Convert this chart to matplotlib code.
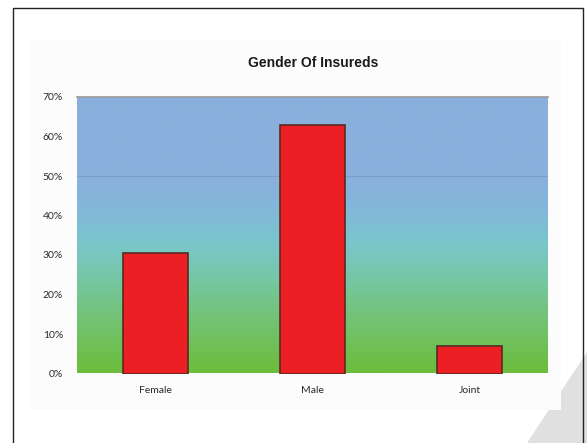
import numpy as np
import matplotlib.pyplot as plt
from matplotlib.colors import LinearSegmentedColormap
from matplotlib.patches import Rectangle, Polygon

# Data
categories = ["Female", "Male", "Joint"]
shares = [30.6, 62.9, 7.0]          # percent of insureds
y_ticks = [0, 10, 20, 30, 40, 50, 60, 70]
y_tick_labels = ["0%", "10%", "20%", "30%", "40%", "50%", "60%", "70%"]
grid_levels = [50]
title = "Gender Of Insureds"

W, H = 587, 443
fig = plt.figure(figsize=(W / 100, H / 100), dpi=100)
fig.patch.set_facecolor("white")

# Background decorations in figure-pixel space
bg = fig.add_axes([0, 0, 1, 1])
bg.set_xlim(0, W)
bg.set_ylim(H, 0)
bg.axis("off")
bg.add_patch(Polygon([(527, H), (W, 352), (W, H)], closed=True,
                     facecolor="#e0e0e0", edgecolor="none", zorder=1))
bg.add_patch(Rectangle((30, 40), 531, 370, facecolor="#fcfcfc",
                       edgecolor="none", zorder=2))
bg.plot([13, 13, 582.5, 582.5], [H + 2, 8, 8, H + 2], color="#222222",
        lw=1.0, zorder=3, solid_joinstyle="miter")

# Plot area
x0, y0, x1, y1 = 77, 97, 548, 373.5
ax = fig.add_axes([x0 / W, 1 - y1 / H, (x1 - x0) / W, (y1 - y0) / H])
ax.set_xlim(-0.5, len(categories) - 0.5)
ax.set_ylim(0, 70)

# Vertical blue-teal-green gradient fill
stops = [
    (0.00, (108 / 255, 189 / 255, 60 / 255)),
    (0.18, (115 / 255, 194 / 255, 112 / 255)),
    (0.35, (118 / 255, 199 / 255, 168 / 255)),
    (0.47, (122 / 255, 198 / 255, 204 / 255)),
    (0.60, (132 / 255, 182 / 255, 218 / 255)),
    (0.72, (138 / 255, 176 / 255, 220 / 255)),
    (1.00, (140 / 255, 175 / 255, 220 / 255)),
]
cmap = LinearSegmentedColormap.from_list("bg_grad", stops)
grad = np.linspace(0, 1, 256).reshape(-1, 1)
ax.imshow(grad, cmap=cmap, origin="lower", aspect="auto",
          extent=(-0.5, len(categories) - 0.5, 0, 70), zorder=0,
          interpolation="bilinear")

for g in grid_levels:
    ax.axhline(g, color="#6f8fb8", lw=0.8, alpha=0.5, zorder=1)

x = np.arange(len(categories))
ax.bar(x, shares, width=0.41, color="#ec2024", edgecolor="#5a2a20",
       linewidth=1.2, zorder=3)

ax.set_yticks(y_ticks)
ax.set_yticklabels(y_tick_labels)
ax.set_xticks(x)
ax.set_xticklabels(categories)
ax.tick_params(axis="both", length=0, labelsize=7.5, colors="#2a2a2a")
ax.tick_params(axis="y", pad=10)
ax.tick_params(axis="x", pad=9)
for lbl in ax.get_xticklabels() + ax.get_yticklabels():
    lbl.set_fontfamily("Lato")

for side in ["left", "right", "bottom"]:
    ax.spines[side].set_visible(False)
ax.spines["top"].set_color("#9a9a9a")
ax.spines["top"].set_linewidth(1.2)

fig.text(313 / W, 1 - 63 / H, title, ha="center", va="center",
         fontsize=10, fontweight="bold", family="Liberation Sans",
         color="#1a1a1a")

fig.savefig("out.png", dpi=100)
